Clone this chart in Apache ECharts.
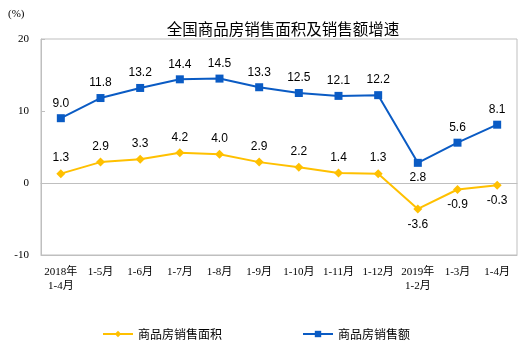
<!DOCTYPE html>
<html><head><meta charset="utf-8">
<script src="https://cdn.jsdelivr.net/npm/echarts@6/dist/echarts.min.js"></script>
<style>html,body{margin:0;padding:0;background:#fff}#c{width:526px;height:355px}</style>
</head><body><div id="c"></div>
<script>
var categories = ['2018年\n1-4月','1-5月','1-6月','1-7月','1-8月','1-9月','1-10月','1-11月','1-12月','2019年\n1-2月','1-3月','1-4月'];
var areaGrowth = [1.3, 2.9, 3.3, 4.2, 4.0, 2.9, 2.2, 1.4, 1.3, -3.6, -0.9, -0.3];
var salesGrowth = [9.0, 11.8, 13.2, 14.4, 14.5, 13.3, 12.5, 12.1, 12.2, 2.8, 5.6, 8.1];
var yTicks = [-10, 0, 10, 20];

function lbl(arr, belowIdx) {
  return arr.map(function (v, i) {
    return { value: v, label: { position: belowIdx.indexOf(i) >= 0 ? 'bottom' : 'top' } };
  });
}
var chart = echarts.init(document.getElementById('c'));
var serifFont = '"Liberation Serif","DejaVu Serif","Noto Sans CJK SC",serif';
chart.setOption({
  animation: false,
  title: { text: '全国商品房销售面积及销售额增速', left: 278, textAlign: 'center', top: 16,
    textStyle: { fontSize: 15.5, fontWeight: 'normal', color: '#000', fontFamily: '"Noto Sans CJK SC",sans-serif' } },
  graphic: [{ type: 'text', left: 8, top: 9, style: { text: '(%)', fontSize: 11, fill: '#000', fontFamily: serifFont } }],
  legend: {
    bottom: 10, left: 97, itemGap: 80, itemWidth: 30, itemHeight: 8,
    textStyle: { fontSize: 12, color: '#000', fontFamily: '"Noto Sans CJK SC",sans-serif' },
    data: ['商品房销售面积', '商品房销售额']
  },
  grid: { left: 41, right: 9, top: 39, bottom: 100, show: true, borderColor: '#bfbfbf', borderWidth: 1 },
  xAxis: [{
    type: 'category', data: categories, position: 'bottom',
    axisLine: { onZero: false, lineStyle: { color: '#bfbfbf' } },
    axisTick: { show: false },
    axisLabel: { interval: 0, color: '#000', fontSize: 11, margin: 10, lineHeight: 14, fontFamily: serifFont }
  }, {
    type: 'category', data: categories, position: 'bottom',
    axisLine: { onZero: true, lineStyle: { color: '#bfbfbf' } },
    axisTick: { inside: true, length: 4, lineStyle: { color: '#bfbfbf' } },
    axisLabel: { show: false }
  }],
  yAxis: {
    type: 'value', min: yTicks[0], max: yTicks[yTicks.length - 1], interval: 10,
    axisLine: { show: true, lineStyle: { color: '#bfbfbf' } },
    axisTick: { show: true, inside: true, length: 4, lineStyle: { color: '#bfbfbf' } },
    splitLine: { show: false },
    axisLabel: { color: '#000', fontSize: 11, margin: 12, fontFamily: serifFont }
  },
  series: [{
    name: '商品房销售面积', type: 'line', data: lbl(areaGrowth, [9, 10, 11]),
    symbol: 'diamond', symbolSize: 9,
    itemStyle: { color: '#FFC000' }, lineStyle: { color: '#FFC000', width: 2 },
    label: { show: true, formatter: function (p) { return p.value.toFixed(1); }, color: '#000', fontSize: 12,
      fontFamily: '"Liberation Sans",Arial,sans-serif', distance: 5 }
  }, {
    name: '商品房销售额', type: 'line', data: lbl(salesGrowth, [9]),
    symbol: 'rect', symbolSize: 8,
    itemStyle: { color: '#0A5BC4' }, lineStyle: { color: '#0A5BC4', width: 2 },
    label: { show: true, formatter: function (p) { return p.value.toFixed(1); }, color: '#000', fontSize: 12,
      fontFamily: '"Liberation Sans",Arial,sans-serif', distance: 5 }
  }]
});
</script></body></html>
